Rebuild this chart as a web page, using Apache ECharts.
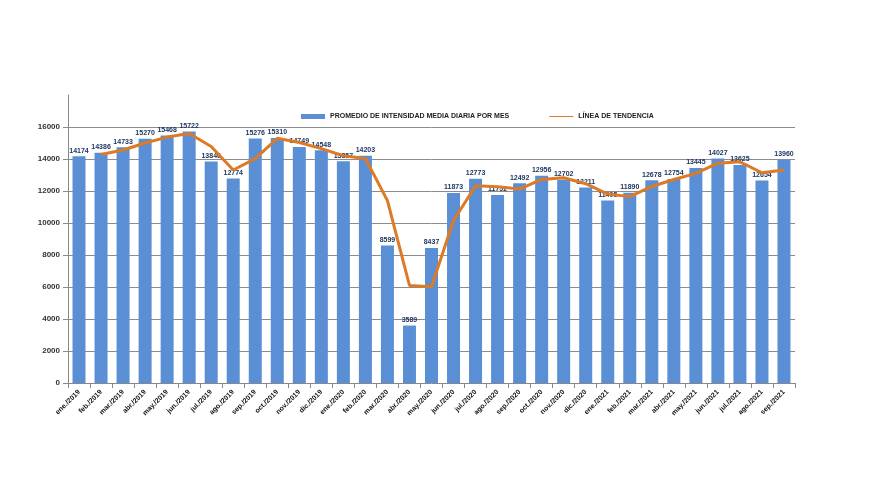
<!DOCTYPE html>
<html>
<head>
<meta charset="utf-8">
<script src="https://cdn.jsdelivr.net/npm/echarts@6/dist/echarts.min.js"></script>
<style>html,body{margin:0;padding:0;background:#fff}#c{width:880px;height:495px}</style>
</head>
<body>
<div id="c"></div>
<script>
const categories = ['ene./2019','feb./2019','mar./2019','abr./2019','may./2019','jun./2019','jul./2019','ago./2019','sep./2019','oct./2019','nov./2019','dic./2019',
  'ene./2020','feb./2020','mar./2020','abr./2020','may./2020','jun./2020','jul./2020','ago./2020','sep./2020','oct./2020','nov./2020','dic./2020',
  'ene./2021','feb./2021','mar./2021','abr./2021','may./2021','jun./2021','jul./2021','ago./2021','sep./2021'];
const monthlyAvg = [14174,14386,14733,15270,15468,15722,13846,12774,15276,15310,14749,14548,
  13857,14203,8599,3589,8437,11873,12773,11752,12492,12956,12702,12211,
  11405,11890,12678,12754,13445,14027,13625,12654,13960];
const trendLine = ['-',14280,14560,15002,15369,15595,14784,13310,14025,15293,15030,14649,
  14203,14030,11401,6094,6013,10155,12323,12263,12122,12724,12829,12457,
  11808,11648,12284,12716,13100,13736,13826,13140,13307];
const gridValues = [2000,4000,6000,8000,10000,12000,14000,16000];
const seriesNames = ['PROMEDIO DE INTENSIDAD MEDIA DIARIA POR MES','LÍNEA DE TENDENCIA'];

const font = 'Liberation Sans Narrow, Arial Narrow, Liberation Sans, sans-serif';
const chart = echarts.init(document.getElementById('c'), null, {renderer:'canvas'});
chart.setOption({
  animation:false,
  backgroundColor:'#fff',
  legend:{
    top:108, left:296, itemGap:40, itemWidth:24, itemHeight:5,
    textStyle:{fontFamily:font, fontSize:7, fontWeight:'bold', color:'#222'},
    data:[{name:seriesNames[0], icon:'rect'},{name:seriesNames[1], icon:'path://M0,0 L48,0 L48,2 L0,2 Z'}]
  },
  grid:{left:68, right:85, top:95, bottom:112},
  xAxis:{
    type:'category', data:categories,
    axisLine:{lineStyle:{color:'#888', width:1}},
    axisTick:{show:true, alignWithLabel:false, lineStyle:{color:'#888'}},
    axisLabel:{rotate:45, interval:0, fontFamily:font, fontSize:7, fontWeight:'bold', color:'#111', margin:8}
  },
  yAxis:{
    type:'value', min:0, max:18000, interval:2000,
    axisLine:{show:true, lineStyle:{color:'#888'}},
    axisTick:{show:true, lineStyle:{color:'#888'}},
    splitLine:{show:false},
    axisLabel:{showMaxLabel:false, formatter:v=>String(v), fontFamily:font, fontSize:8, fontWeight:'bold', color:'#333', margin:8}
  },
  series:[
    {
      name:seriesNames[0], type:'bar', data:monthlyAvg, barWidth:13,
      itemStyle:{color:'#5A8FD6'},
      label:{show:true, position:'top', distance:2, fontFamily:font, fontSize:7, fontWeight:'bold', color:'#1F3864'},
      markLine:{
        silent:true, symbol:'none', z:0,
        label:{show:false},
        lineStyle:{color:'#8c8c8c', type:'solid', width:1},
        data:gridValues.map(v=>({yAxis:v}))
      },
      z:2
    },
    {
      name:seriesNames[1], type:'line', data:trendLine, symbol:'none', smooth:false,
      lineStyle:{color:'#DD7A25', width:3},
      itemStyle:{color:'#DD7A25'},
      z:3
    }
  ]
});
</script>
</body>
</html>
